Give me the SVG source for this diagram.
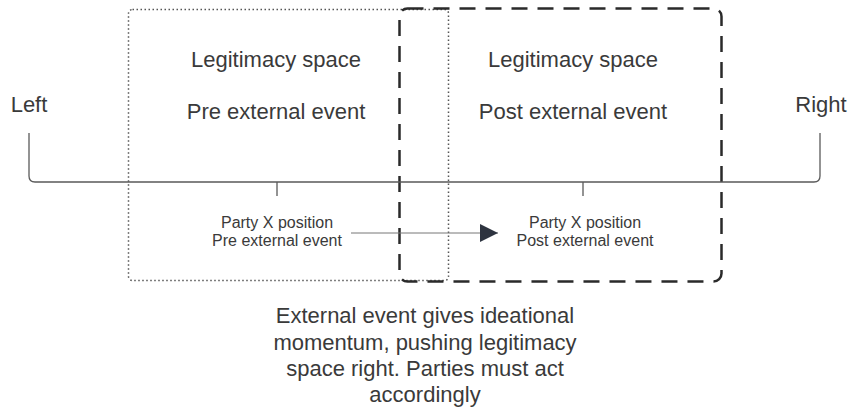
<svg xmlns="http://www.w3.org/2000/svg" width="849" height="410" viewBox="0 0 849 410">
<style>
text{font-family:"Liberation Sans",Arial,sans-serif;fill:#3a3a3a;text-anchor:middle}
.big{font-size:22px}
.sm{font-size:16px}
.ln{fill:none;stroke:#5a5a5a;stroke-width:1.3}
</style>
<defs>
<marker id="ah2" viewBox="0 0 18 18" refX="18" refY="9" markerWidth="18" markerHeight="18" markerUnits="userSpaceOnUse" orient="auto">
<path d="M0,0 L18,9 L0,18 z" fill="#2e3440"/>
</marker>
</defs>
<rect width="849" height="410" fill="#fff"/>
<g id="pre-space">
<rect x="128.5" y="9.5" width="320" height="271" rx="4" fill="none" stroke="#555" stroke-width="1.5" stroke-dasharray="1.5 2.5"/>
<text class="big" x="276" y="67">Legitimacy space</text>
<text class="big" x="276" y="119">Pre external event</text>
</g>
<g id="post-space">
<rect x="399.5" y="8.5" width="322" height="273" rx="8" fill="none" stroke="#2a2a2a" stroke-width="2.5" stroke-dasharray="16 10"/>
<text class="big" x="573" y="67">Legitimacy space</text>
<text class="big" x="573" y="119">Post external event</text>
</g>
<g id="axis">
<text class="big" x="29" y="112">Left</text>
<text class="big" x="821" y="112">Right</text>
</g>
<g id="pre-position">
<text class="sm" x="277" y="228">Party X position</text>
<text class="sm" x="277" y="246">Pre external event</text>
</g>
<g id="post-position">
<text class="sm" x="585" y="228">Party X position</text>
<text class="sm" x="585" y="246">Post external event</text>
</g>
<g id="caption">
<text class="big" x="425" y="323">External event gives ideational</text>
<text class="big" x="425" y="350">momentum, pushing legitimacy</text>
<text class="big" x="425" y="376">space right. Parties must act</text>
<text class="big" x="425" y="402">accordingly</text>
</g>
<g id="connectors">
<path class="ln" d="M29,133 V176 Q29,182 35,182 H814 Q820,182 820,176 V133"/>
<path class="ln" d="M277,182 V196 M583,182 V196"/>
<path d="M351,233 H498" fill="none" stroke="#777" stroke-width="1" marker-end="url(#ah2)"/>
</g>
</svg>
